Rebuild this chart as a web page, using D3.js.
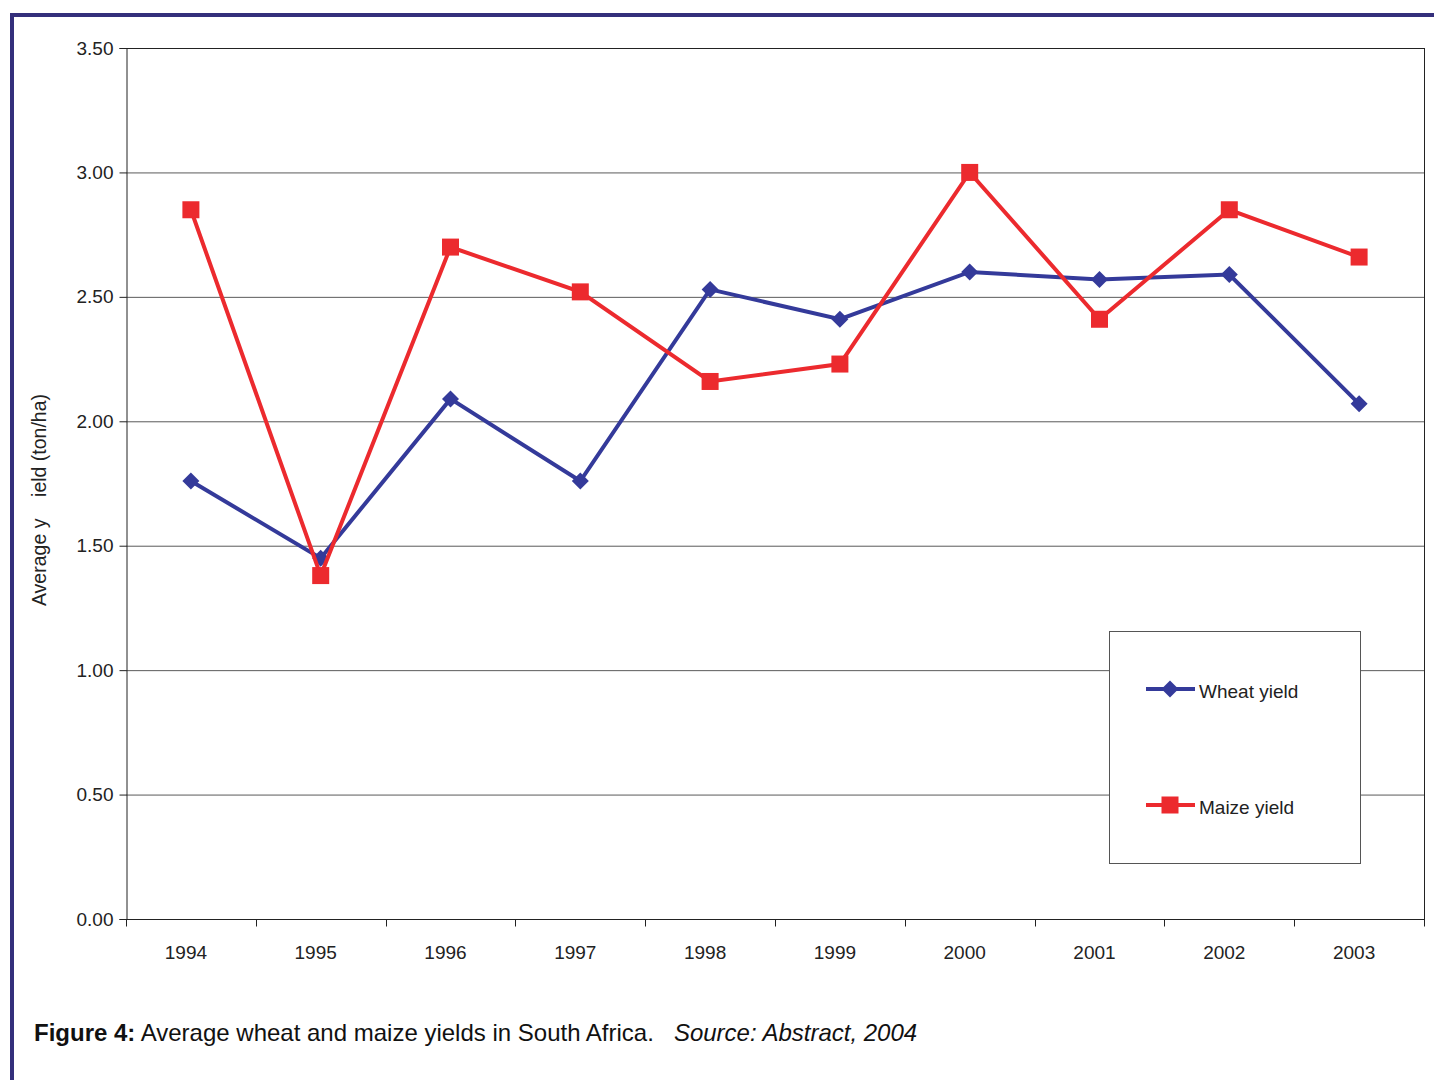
<!DOCTYPE html>
<html>
<head>
<meta charset="utf-8">
<script src="https://cdn.jsdelivr.net/npm/d3@7"></script>
<style>
body { margin: 0; background: #fff; }
svg { display: block; font-family: "Liberation Sans", Arial, sans-serif; }
</style>
</head>
<body>
<svg id="chart" width="1434" height="1080"></svg>
<script>
const years = ['1994','1995','1996','1997','1998','1999','2000','2001','2002','2003']
const wheat = [1.76, 1.45, 2.09, 1.76, 2.53, 2.41, 2.60, 2.57, 2.59, 2.07]
const maize = [2.85, 1.38, 2.70, 2.52, 2.16, 2.23, 3.00, 2.41, 2.85, 2.66]
const yTicks = [0, 0.5, 1, 1.5, 2, 2.5, 3, 3.5]

const series = [
	{name: 'Wheat yield', values: wheat, color: '#343a9a', marker: 'diamond'},
	{name: 'Maize yield', values: maize, color: '#ec2a2e', marker: 'square'}
]

const svg = d3.select('#chart')
const margin = {top: 48, right: 10, bottom: 161, left: 126}
const width = 1434, height = 1080

// frame round the figure
svg.append('path')
.attr('d', 'M12,1080 L12,15 L1434,15')
.attr('fill', 'none')
.attr('stroke', '#342f7b')
.attr('stroke-width', 4)

let x = d3.scaleBand()
.domain(years)
.range([margin.left, width - margin.right])

let y = d3.scaleLinear()
.domain([0, 3.5])
.range([height - margin.bottom, margin.top])

// gridlines
svg.append('g')
.selectAll('line')
.data(yTicks.slice(1))
.enter()
.append('line')
.attr('x1', margin.left)
.attr('x2', width - margin.right)
.attr('y1', d => y(d) + 0.5)
.attr('y2', d => y(d) + 0.5)
.attr('stroke', d => d === 3.5 ? '#222' : '#5a5a5a')
.attr('stroke-width', 1)

// right edge
svg.append('line')
.attr('x1', width - margin.right + 0.5)
.attr('x2', width - margin.right + 0.5)
.attr('y1', margin.top)
.attr('y2', height - margin.bottom + 7)
.attr('stroke', '#222')

const yAxis = svg.append('g')
.attr('transform', `translate(${margin.left + 0.5},0)`)
.call(d3.axisLeft(y).tickValues(yTicks).tickFormat(d3.format('.2f')).tickSize(7).tickPadding(6))

yAxis.select('.domain').attr('stroke', '#222')
yAxis.selectAll('.tick line').attr('stroke', '#222')
yAxis.selectAll('text').attr('font-size', 19).attr('fill', '#222').attr('font-family', '"Liberation Sans", Arial, sans-serif')

// x axis, ticks sit on the band edges
const xAxis = svg.append('g')
.attr('transform', `translate(0,${height - margin.bottom + 0.5})`)

xAxis.append('line')
.attr('x1', margin.left)
.attr('x2', width - margin.right)
.attr('stroke', '#222')

const edges = years.map(d => x(d)).concat([x(years[years.length - 1]) + x.bandwidth()])

xAxis.selectAll('.edge')
.data(edges)
.enter()
.append('line')
.attr('class', 'edge')
.attr('x1', d => Math.round(d) + 0.5)
.attr('x2', d => Math.round(d) + 0.5)
.attr('y1', 0)
.attr('y2', 7)
.attr('stroke', '#222')

xAxis.selectAll('text')
.data(years)
.enter()
.append('text')
.attr('x', d => x(d) + x.bandwidth() / 2 - 5)
.attr('y', 39)
.attr('text-anchor', 'middle')
.attr('font-size', 19)
.attr('fill', '#222')
.text(d => d)

// y axis title, the gap is in the original
svg.append('text')
.attr('transform', 'translate(46,500) rotate(-90)')
.attr('text-anchor', 'middle')
.attr('font-size', 19.5)
.attr('fill', '#222')
.style('white-space', 'pre')
.text('Average y    ield (ton/ha)')

const line = d3.line()
.x((d, i) => x(years[i]) + x.bandwidth() / 2)
.y(d => y(d))

const drawMarker = (g, s, cx, cy) => {
	if (s.marker === 'square') {
		g.append('rect')
		.attr('x', cx - 8.5)
		.attr('y', cy - 8.5)
		.attr('width', 17)
		.attr('height', 17)
		.attr('fill', s.color)
	} else {
		g.append('path')
		.attr('d', `M${cx},${cy - 8.5}L${cx + 8.5},${cy}L${cx},${cy + 8.5}L${cx - 8.5},${cy}Z`)
		.attr('fill', s.color)
	}
}

series.map(s => {
	let g = svg.append('g')
	g.append('path')
	.datum(s.values)
	.attr('d', line)
	.attr('fill', 'none')
	.attr('stroke', s.color)
	.attr('stroke-width', 4)
	.attr('stroke-linejoin', 'miter')

	s.values.map((v, i) => drawMarker(g, s, x(years[i]) + x.bandwidth() / 2, y(v)))
})

// legend
const legend = svg.append('g')

legend.append('rect')
.attr('x', 1109.5)
.attr('y', 631.5)
.attr('width', 251)
.attr('height', 232)
.attr('fill', '#fff')
.attr('stroke', '#555')

series.map((s, i) => {
	let ly = 689 + i * 116
	legend.append('line')
	.attr('x1', 1146)
	.attr('x2', 1195)
	.attr('y1', ly)
	.attr('y2', ly)
	.attr('stroke', s.color)
	.attr('stroke-width', 4)

	drawMarker(legend, s, 1170, ly)

	legend.append('text')
	.attr('x', 1199)
	.attr('y', ly + 9)
	.attr('font-size', 19)
	.attr('fill', '#222')
	.text(s.name)
})

// caption
const caption = svg.append('text')
.attr('x', 34)
.attr('y', 1041)
.attr('font-size', 24)
.attr('fill', '#111')
.style('white-space', 'pre')

caption.append('tspan').attr('font-weight', 'bold').text('Figure 4:')
caption.append('tspan').text(' Average wheat and maize yields in South Africa.   ')
caption.append('tspan').attr('font-style', 'italic').text('Source: Abstract, 2004')
</script>
</body>
</html>
